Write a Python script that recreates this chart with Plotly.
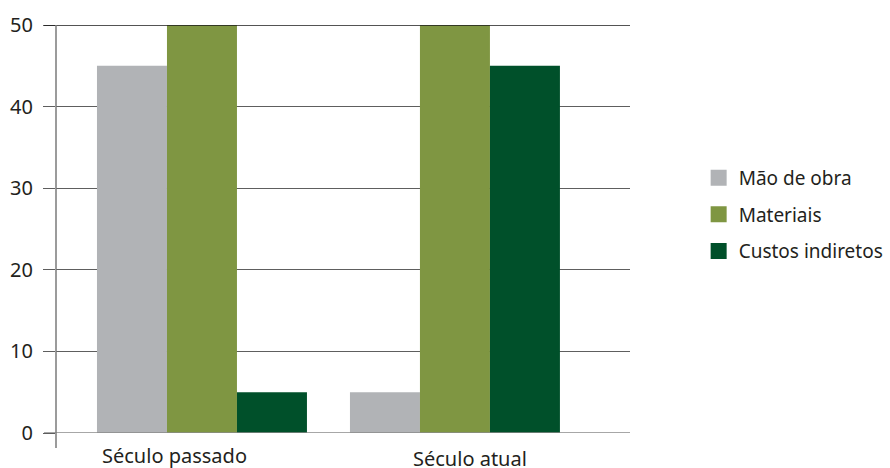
import plotly.graph_objects as go

categories = ["Século passado", "Século atual"]
series_names = ["Mão de obra", "Materiais", "Custos indiretos"]
mao_de_obra = [45, 5]
materiais = [50, 50]
custos_indiretos = [5, 45]
y_ticks = [0, 10, 20, 30, 40, 50]

colors = ["#b1b3b6", "#7f9642", "#00502a"]
values = [mao_de_obra, materiais, custos_indiretos]
FONT = "Noto Sans"
TXT = "#231f20"

fig = go.Figure()
xpos = list(range(len(categories)))
for name, vals, col in zip(series_names, values, colors):
    fig.add_trace(go.Bar(x=xpos, y=vals, name=name, marker=dict(color=col, line=dict(width=0)),
                         showlegend=False))
# legend proxies
for i, (name, col) in enumerate(zip(series_names, colors)):
    fig.add_trace(go.Scatter(x=[None], y=[None], mode="markers", name=name, legendgroup=name,
                             marker=dict(symbol="square", size=16, color=col, line=dict(width=0))))

fig.update_layout(
    width=890, height=468,
    margin=dict(l=56, r=260, t=25, b=35, autoexpand=False),
    paper_bgcolor="white", plot_bgcolor="white",
    barmode="group", bargap=0.17, bargroupgap=0,
    font=dict(family=FONT, size=20, color=TXT),
    showlegend=True,
    legend=dict(xref="container", yref="container", x=0.785, xanchor="left",
                y=0.541, yanchor="middle",
                font=dict(family=FONT, size=19, color=TXT),
                tracegroupgap=9, traceorder="grouped", itemsizing="trace",
                bgcolor="rgba(0,0,0,0)"),
    xaxis=dict(range=[-0.577, 1.692], showticklabels=False, showgrid=False, zeroline=False,
               showline=False, ticks="", fixedrange=True, automargin=False),
    yaxis=dict(range=[0, 50], tickvals=y_ticks, ticktext=[str(v) for v in y_ticks],
               showgrid=True, gridcolor="#5e5e5e", gridwidth=1, zeroline=False,
               showline=False, ticks="outside", ticklen=12, tickcolor="#5e5e5e", tickwidth=1,
               tickfont=dict(family=FONT, size=20, color=TXT), ticklabelstandoff=6,
               automargin=False),
)

# top border line (darker), bottom axis line (gray), left axis line (gray)
fig.add_shape(type="line", xref="paper", yref="y", x0=-12/574, x1=1, y0=50, y1=50,
              line=dict(color="#1a1a1a", width=1.3), layer="above")
fig.add_shape(type="line", xref="paper", yref="y", x0=-12/574, x1=1, y0=0, y1=0,
              line=dict(color="#8a8a8a", width=1.5), layer="above")
fig.add_shape(type="line", xref="paper", yref="paper", x0=0, x1=0, y0=-15/408, y1=1,
              line=dict(color="#7a7a7a", width=1.5), layer="above")

# category labels
label_offsets = [-0.11, 0.06]
label_shift = [-22, -25]
for i, cat in enumerate(categories):
    fig.add_annotation(x=xpos[i] + label_offsets[i], y=0, xref="x", yref="y", text=cat,
                       showarrow=False, yanchor="middle", yshift=label_shift[i],
                       font=dict(family=FONT, size=20, color=TXT))

fig.write_html("out.html")
